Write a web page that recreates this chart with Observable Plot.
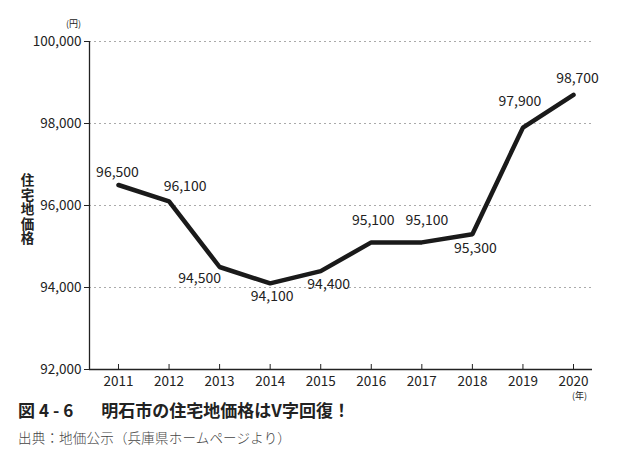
<!DOCTYPE html>
<html>
<head>
<meta charset="utf-8">
<script src="https://cdn.jsdelivr.net/npm/d3@7"></script>
<script src="https://cdn.jsdelivr.net/npm/@observablehq/plot@0.6"></script>
<style>
  html, body { margin: 0; padding: 0; background: #fff; }
  body { width: 632px; height: 461px; position: relative; overflow: hidden; font-family: "Noto Sans CJK JP", "Noto Sans", sans-serif; }
  #chart { position: absolute; left: 0; top: 0; }
  #title { position: absolute; left: 18px; top: 399px; font-size: 17px; font-weight: 700; color: #222; white-space: pre; line-height: 22px; }
  #title .num { letter-spacing: 4px; margin-left: 4px; margin-right: 24px; }
  #caption { position: absolute; left: 18px; top: 428px; font-size: 13.5px; font-weight: 300; color: #444; line-height: 18px; letter-spacing: 0.2px; }
</style>
</head>
<body>
<div id="chart"></div>
<div id="title">図<span class="num">4-6</span>明石市の住宅地価格はV字回復！</div>
<div id="caption">出典：地価公示（兵庫県ホームページより）</div>
<script>
const years = [2011, 2012, 2013, 2014, 2015, 2016, 2017, 2018, 2019, 2020];
const prices = [96500, 96100, 94500, 94100, 94400, 95100, 95100, 95300, 97900, 98700];
const yTicks = [92000, 94000, 96000, 98000, 100000];
const gridTicks = [94000, 96000, 98000, 100000];
const yLabel = "住宅地価格";
const yUnit = "(円)";
const xUnit = "(年)";

const data = years.map((year, i) => ({year, price: prices[i]}));

// label offsets (layout only)
const labelOffsets = [[-1, -12], [16, -15], [-20, 12], [2, 13], [8, 13], [2, -22], [5, -22], [3, 14], [-3, -26], [4, -16]];
const labeled = data.map((d, i) => ({...d, dx: labelOffsets[i][0], dy: labelOffsets[i][1]}));

const W = 632, H = 406, mL = 89, mR = 40, mT = 41, mB = 37;
const font = "'Noto Sans CJK JP', 'Noto Sans', sans-serif";
const fmt = d3.format(",");

const plot = Plot.plot({
  width: W,
  height: H,
  marginLeft: mL,
  marginRight: mR,
  marginTop: mT,
  marginBottom: mB,
  style: {fontFamily: font, fontSize: "13px", color: "#222", background: "transparent"},
  x: {domain: [2010.4265, 2020.3758], axis: null},
  y: {domain: [92000, 100000], axis: null},
  marks: [
    Plot.ruleY(gridTicks, {y: d => d, stroke: "#aaa", strokeDasharray: "2,3", strokeWidth: 1}),
    // y axis
    Plot.axisY(yTicks, {label: null, tickSize: 5, tickPadding: 3, tickFormat: d => fmt(d), stroke: "#222", fill: "#222", fontSize: 13.5}),
    Plot.ruleX([0], {x: () => 2010.4265, stroke: "#222", strokeWidth: 1.3}),
    Plot.ruleY([92000], {stroke: "#222", strokeWidth: 1.3}),
    // x axis ticks (inward) and labels
    Plot.tickX(years, {x: d => d, stroke: "#222", strokeWidth: 1, insetTop: H - mT - mB - 5}),
    Plot.axisX(years, {label: null, tickSize: 0, tickPadding: 7, tickFormat: d => String(d), fill: "#222", fontSize: 13.5}),
    // line
    Plot.line(data, {x: "year", y: "price", stroke: "#1a1a1a", strokeWidth: 4.5, strokeLinejoin: "miter"}),
    // value labels
    ...labeled.map(d => Plot.text([d], {x: "year", y: "price", text: e => fmt(e.price), dx: d.dx, dy: d.dy, fill: "#222", fontSize: 14})),
    // units
    Plot.text([yUnit], {frameAnchor: "top-left", lineAnchor: "middle", dx: -16, dy: -17, fontSize: 9, fill: "#222", textAnchor: "middle"}),
    Plot.text([xUnit], {x: () => 2020, frameAnchor: "bottom", lineAnchor: "middle", dy: 27, dx: 6, fontSize: 9, fill: "#222"}),
    // y label (vertical)
    Plot.text([yLabel], {frameAnchor: "left", dx: -62, fontSize: 13.5, fontWeight: 700, fill: "#222", textAnchor: "middle", lineAnchor: "middle"})
  ]
});
d3.select(plot).selectAll("text").filter(function() { return this.textContent === yLabel; })
  .attr("writing-mode", "vertical-rl")
  .style("text-orientation", "upright")
  .attr("dy", null)
  .style("letter-spacing", "1px");
document.getElementById("chart").appendChild(plot);
</script>
</body>
</html>
